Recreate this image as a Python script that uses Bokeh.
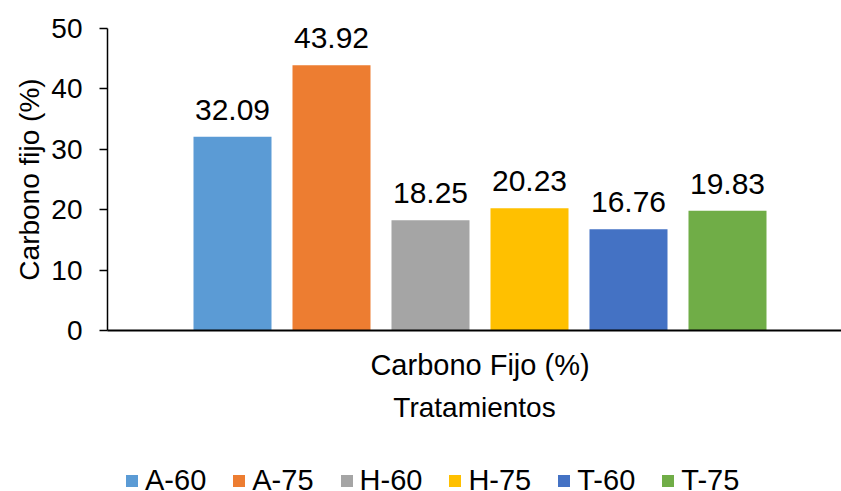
import math
from bokeh.plotting import figure
from bokeh.models import (Range1d, FixedTicker, Legend, LegendItem,
                          ColumnDataSource, LabelSet, Label)
from bokeh.core.properties import value
from bokeh.embed import file_html
from bokeh.resources import INLINE

# Fixed carbon content per treatment
treatments = ["A-60", "A-75", "H-60", "H-75", "T-60", "T-75"]
carbono_fijo = [32.09, 43.92, 18.25, 20.23, 16.76, 19.83]
colors = ["#5B9BD5", "#ED7D31", "#A5A5A5", "#FFC000", "#4472C4", "#70AD47"]
group_label = "Carbono Fijo (%)"
y_ticks = [0, 10, 20, 30, 40, 50]

FONT = "Liberation Sans"
n = len(treatments)
offsets = [i - (n - 1) / 2 for i in range(n)]  # bar slots around the group centre

# Layout in pixels: the frame fills the whole canvas and the axes are pinned
# inside it, leaving room for the titles and the legend row.
W, H = 841, 491
AXIS_X_PX, ZERO_Y_PX, TOP_Y_PX = 107, 330, 28   # value axis, zero line, top tick
GROUP_X_PX, SLOT_PX = 479.5, 99                   # group centre, bar pitch
px_per_unit = (ZERO_Y_PX - TOP_Y_PX) / y_ticks[-1]

x_start = -GROUP_X_PX / SLOT_PX
x_end = (W - GROUP_X_PX) / SLOT_PX
y_start = -(H - ZERO_Y_PX) / px_per_unit
y_end = ZERO_Y_PX / px_per_unit
axis_x = (AXIS_X_PX - GROUP_X_PX) / SLOT_PX

p = figure(frame_width=W, frame_height=H, output_backend="svg",
           toolbar_location=None,
           x_range=Range1d(x_start, x_end), y_range=Range1d(y_start, y_end),
           min_border=0, outline_line_color=None,
           background_fill_color="white", border_fill_color="white")
p.grid.visible = False

src = ColumnDataSource(dict(x=offsets, top=carbono_fijo,
                            label=[f"{v:.2f}" for v in carbono_fijo]))

items = []
for i, name in enumerate(treatments):
    r = p.vbar(x=offsets[i], top=carbono_fijo[i], bottom=0, width=0.788,
               color=colors[i], line_color=None)
    items.append(LegendItem(label=name, renderers=[r]))

labels = LabelSet(x="x", y="top", text="label", source=src,
                  text_align="center", text_baseline="alphabetic",
                  y_offset=17, text_font=value(FONT), text_font_size="30px",
                  text_color="#000000")
p.add_layout(labels)

# y axis, pinned at the left edge of the bars' area
ya = p.yaxis[0]
ya.fixed_location = axis_x
ya.ticker = FixedTicker(ticks=y_ticks)
ya.bounds = (y_ticks[0], y_ticks[-1])
ya.major_label_text_font = FONT
ya.major_label_text_font_size = "28px"
ya.major_label_text_color = "#000000"
ya.major_label_standoff = 17
ya.major_tick_in = 0
ya.major_tick_out = 8
ya.minor_tick_line_color = None
ya.axis_line_color = "#000000"
ya.axis_line_width = 1.5
ya.major_tick_line_color = "#000000"
ya.major_tick_line_width = 1.5

# y axis title
p.add_layout(Label(x=29, x_units="screen", y=(y_ticks[0] + y_ticks[-1]) / 2,
                   text="Carbono fijo (%)", angle=math.pi / 2,
                   text_align="center", text_baseline="middle",
                   text_font=FONT, text_font_size="28px",
                   text_color="#000000"))

# x axis: drawn at zero, single group label under the bars
xa = p.xaxis[0]
xa.fixed_location = 0
xa.bounds = (axis_x, x_end)
xa.ticker = FixedTicker(ticks=[0])
xa.major_label_overrides = {0: group_label}
xa.axis_label = "Tratamientos"
xa.axis_label_text_font = FONT
xa.axis_label_text_font_size = "28px"
xa.axis_label_text_font_style = "normal"
xa.axis_label_text_color = "#000000"
xa.axis_label_standoff = 8
xa.major_label_text_font = FONT
xa.major_label_text_font_size = "29px"
xa.major_label_text_color = "#000000"
xa.major_label_standoff = 18
xa.major_tick_in = 0
xa.major_tick_out = 0
xa.minor_tick_line_color = None
xa.axis_line_color = "#000000"
xa.axis_line_width = 2

# legend row along the bottom edge
legend = Legend(items=items, orientation="horizontal", location=(124, -6),
                border_line_color=None, background_fill_alpha=0,
                label_text_font=FONT, label_text_font_size="29px",
                label_text_color="#000000",
                glyph_width=15, glyph_height=15, label_standoff=6,
                spacing=25, margin=0, padding=0)
p.add_layout(legend, "center")

open("out.html", "w").write(file_html(p, INLINE))
